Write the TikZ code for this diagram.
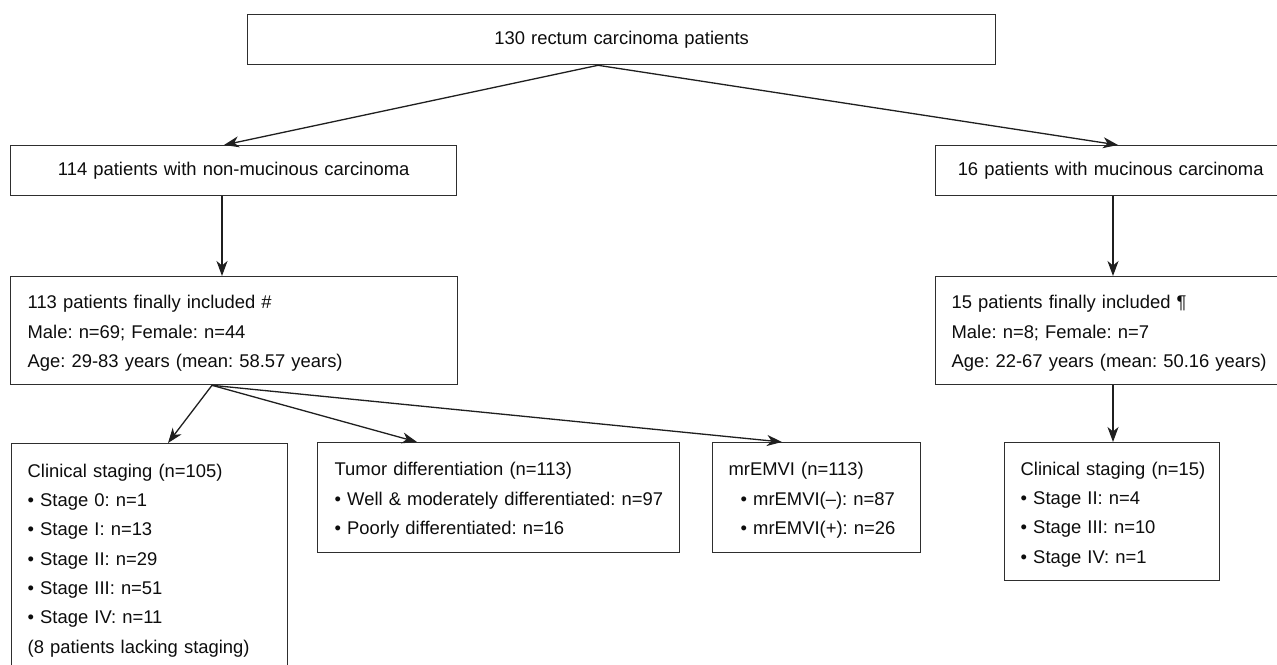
\documentclass[tikz,border=0pt]{standalone}
\usepackage{fontspec}
\setmainfont{Liberation Sans}
\usetikzlibrary{arrows.meta,calc}
\newcommand{\boxfont}{\fontsize{18.4}{29.3}\selectfont\frenchspacing\hyphenpenalty=10000\relax\exhyphenpenalty=10000\relax}
\newcommand{\topstrut}{\rule{0pt}{19pt}}
\begin{document}
\begin{tikzpicture}[x=1pt,y=-1pt,
  box/.style={draw=black!82, line width=1.3pt, inner xsep=16pt, inner ysep=0pt, anchor=north west,
    font=\boxfont, text=black!95},
  arr/.style={draw=black!88, line width=1.3pt, -{Stealth[length=15pt,width=11pt,inset=4.5pt]}}]
\fill[white] (0,0) rectangle (1277,664);
\useasboundingbox (0,0) rectangle (1277,664);

\node[box, align=center, text width=716pt, minimum height=50pt] (top) at (247,14) {130 rectum carcinoma patients};
\node[box, align=center, text width=414pt, minimum height=50pt] (nm) at (10,145) {114 patients with non-mucinous carcinoma};
\node[box, align=center, text width=318pt, minimum height=50pt] (mu) at (935,145) {16 patients with mucinous carcinoma};

\node[box, align=left, text width=413pt, minimum height=108pt, inner xsep=17pt] (nmi) at (10,276)
  {\topstrut 113 patients finally included \#\\Male: n=69; Female: n=44\\Age: 29-83 years (mean: 58.57 years)};
\node[box, align=left, text width=318pt, minimum height=108pt] (mui) at (935,276)
  {\topstrut 15 patients finally included ¶\\Male: n=8; Female: n=7\\Age:~22-67~years~(mean:~50.16~years)};

\node[box, align=left, text width=244pt, minimum height=228pt] (c105) at (11,443)
  {\topstrut Clinical staging (n=105)\\• Stage 0: n=1\\• Stage I: n=13\\• Stage II: n=29\\• Stage III: n=51\\• Stage IV: n=11\\(8 patients lacking staging)};
\node[box, align=left, text width=328pt, minimum height=110pt, inner xsep=17pt] (tum) at (317,442)
  {\topstrut Tumor differentiation (n=113)\\• Well~\&~moderately~differentiated:~n=97\\• Poorly differentiated: n=16};
\node[box, align=left, text width=176pt, minimum height=110pt] (emv) at (712,442)
  {\topstrut mrEMVI (n=113)\\\hspace*{12pt}• mrEMVI(–): n=87\\\hspace*{12pt}• mrEMVI(+): n=26};
\node[box, align=left, text width=183pt, minimum height=138pt] (c15) at (1004,442)
  {\topstrut Clinical~staging~(n=15)\\• Stage II: n=4\\• Stage III: n=10\\• Stage IV: n=1};

\draw[arr] ([xshift=351pt]top.south west) -- ([xshift=214pt]nm.north west);
\draw[arr] ([xshift=351pt]top.south west) -- ([xshift=183pt]mu.north west);
\draw[arr] ([xshift=212pt]nm.south west) -- ([xshift=212pt]nmi.north west);
\draw[arr] ([xshift=178pt]mu.south west) -- ([xshift=178pt]mui.north west);
\draw[arr] ([xshift=178pt]mui.south west) -- ([xshift=178pt]mui.south west |- c15.north);
\draw[arr] ([xshift=202pt]nmi.south west) -- ([xshift=157pt]c105.north west);
\draw[arr] ([xshift=202pt]nmi.south west) -- ([xshift=100pt]tum.north west);
\draw[arr] ([xshift=202pt]nmi.south west) -- ([xshift=70pt]emv.north west);
\end{tikzpicture}
\end{document}
